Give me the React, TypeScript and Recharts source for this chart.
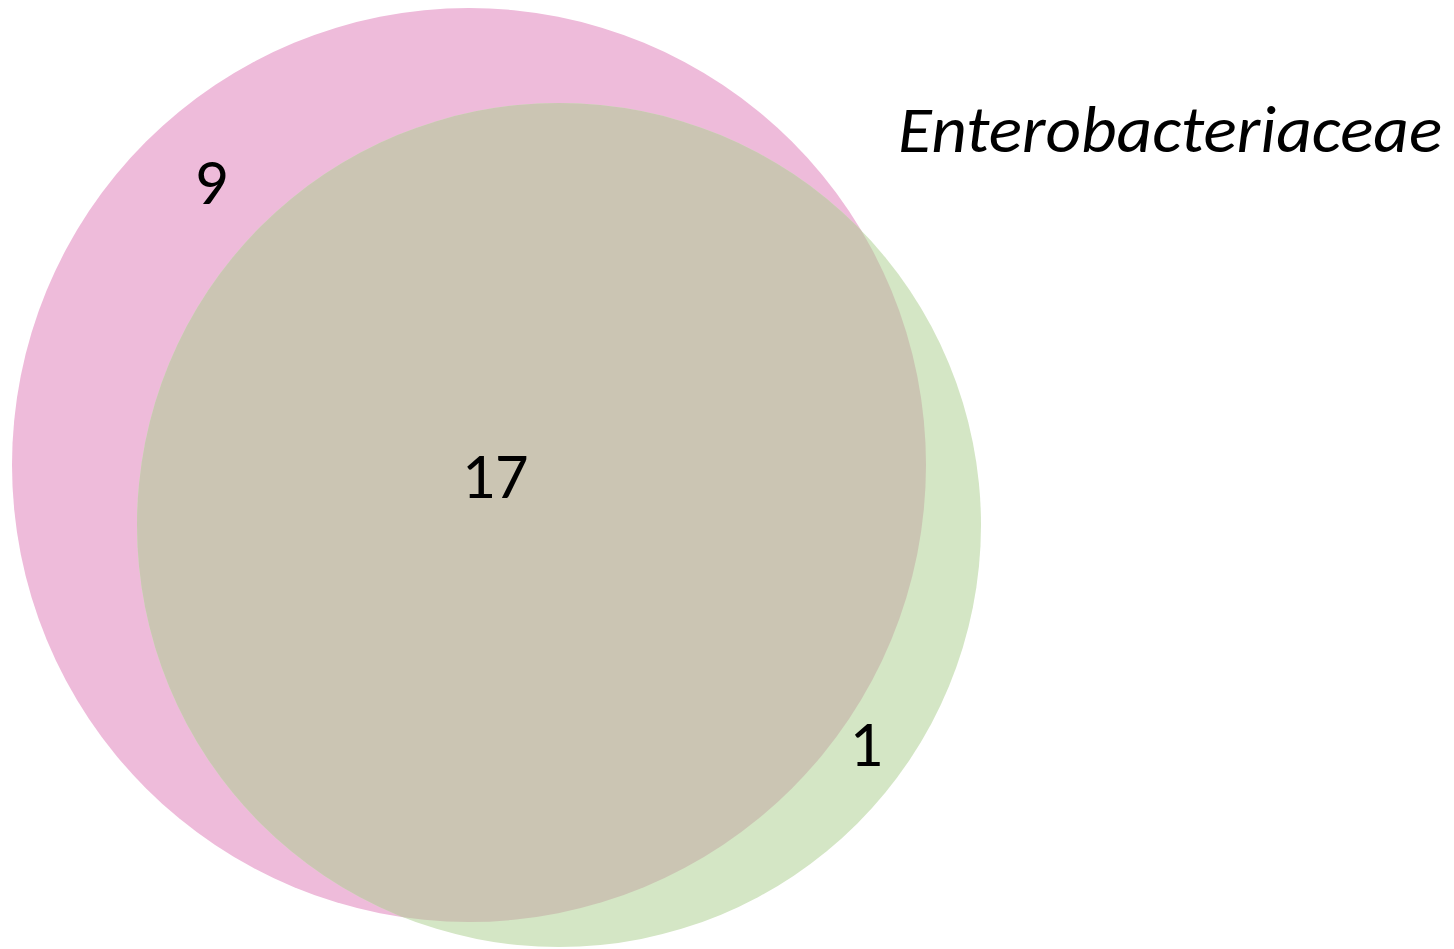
import React from 'react'
import { ScatterChart, Scatter, XAxis, YAxis } from 'recharts'

// circle centres and radii, in page pixels
const sets = [
  { name: 'A', x: 469, y: 465, r: 457 },
  { name: 'B', x: 559, y: 525, r: 422 },
]
const setColors = ['#EEBBDA', '#D4E6C5']
const overlapColor = '#CBC5B3'

const counts = [
  { x: 211, y: 181, text: '9' },
  { x: 495, y: 475, text: '17' },
  { x: 866, y: 743, text: '1' },
]
const titles = [{ x: 898, y: 152, text: 'Enterobacteriaceae' }]

const W = 1454
const H = 949
const font = "Carlito, Calibri, 'Open Sans', sans-serif"

// eslint-disable-next-line @typescript-eslint/no-explicit-any
const SetA = (props: any) => {
  const { cx, cy, payload } = props
  return (
    <g>
      <defs>
        <clipPath id='clipA'>
          <circle cx={cx} cy={cy} r={payload.r} />
        </clipPath>
      </defs>
      <circle cx={cx} cy={cy} r={payload.r} fill={setColors[0]} />
    </g>
  )
}

// eslint-disable-next-line @typescript-eslint/no-explicit-any
const SetB = (props: any) => {
  const { cx, cy, payload } = props
  return (
    <g>
      <circle cx={cx} cy={cy} r={payload.r} fill={setColors[1]} />
      <circle cx={cx} cy={cy} r={payload.r} fill={overlapColor} clipPath='url(#clipA)' />
    </g>
  )
}

// eslint-disable-next-line @typescript-eslint/no-explicit-any
const CountLabel = (props: any) => {
  const { cx, cy, payload } = props
  return (
    <text x={cx} y={cy} textAnchor='middle' dominantBaseline='central' fontSize={66} fontFamily={font} fill='#000'>
      {payload.text}
    </text>
  )
}

// eslint-disable-next-line @typescript-eslint/no-explicit-any
const TitleLabel = (props: any) => {
  const { cx, cy, payload } = props
  return (
    <text
      x={cx}
      y={cy}
      textAnchor='start'
      fontSize={66}
      fontStyle='italic'
      fontFamily={font}
      textLength={544}
      lengthAdjust='spacingAndGlyphs'
      fill='#000'
    >
      {payload.text}
    </text>
  )
}

export default function App() {
  return (
    <div style={{ position: 'absolute', left: 0, top: 0, width: W, height: H, background: '#fff' }}>
      <ScatterChart width={W} height={H} margin={{ top: 0, right: 0, bottom: 0, left: 0 }}>
        <XAxis type='number' dataKey='x' domain={[0, W]} hide />
        <YAxis type='number' dataKey='y' domain={[0, H]} reversed hide />
        <Scatter data={[sets[0]]} shape={SetA} isAnimationActive={false} />
        <Scatter data={[sets[1]]} shape={SetB} isAnimationActive={false} />
        <Scatter data={counts} shape={CountLabel} isAnimationActive={false} />
        <Scatter data={titles} shape={TitleLabel} isAnimationActive={false} />
      </ScatterChart>
    </div>
  )
}
